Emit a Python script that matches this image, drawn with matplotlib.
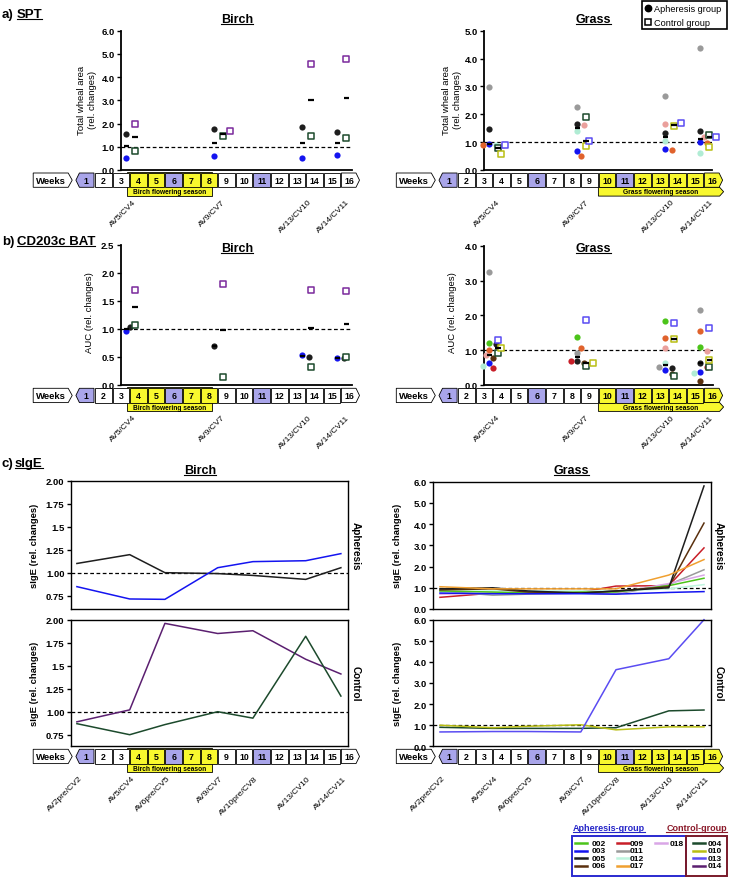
import numpy as np
import matplotlib.pyplot as plt
from matplotlib.patches import Polygon, Rectangle

plt.rcParams["font.family"] = ["Liberation Sans", "DejaVu Sans"]

W, H = 729, 878
nan = np.nan

# visits shown in the SPT and BAT panels (week of the visit)
spt_visits = ["AV5/CV4", "AV9/CV7", "AV13/CV10", "AV14/CV11"]
spt_weeks = [3.5, 8.5, 13.5, 15.5]

# visits shown in the sIgE panels
sige_visits = ["AV2pre/CV2", "AV5/CV4", "AV6pre/CV5", "AV9/CV7",
               "AV10pre/CV8", "AV13/CV10", "AV14/CV11"]
sige_weeks = [0.5, 3.5, 5.5, 8.5, 10.5, 13.5, 15.5]

# a) SPT - total wheal area (rel. changes)
spt_birch_aph = {"003": [0.53, 0.59, 0.52, 0.65], "005": [1.55, 1.76, 1.84, 1.65]}
spt_birch_ctrl = {"004": [0.83, 1.48, 1.48, 1.38], "014": [1.97, 1.66, 4.56, 4.78]}
spt_grass_aph = {
    "003": [0.93, 0.69, 0.75, 1.02],
    "005": [1.48, 1.65, 1.32, 1.41],
    "011": [2.99, 2.25, 2.64, 4.38],
    "012": [0.90, 1.39, 1.05, 0.61],
    "017": [0.91, 0.51, 0.72, 0.97],
    "018": [0.91, 1.63, 1.65, 1.20],
}
spt_grass_ctrl = {
    "004": [0.78, 1.91, nan, 1.26],
    "010": [0.58, 0.87, 1.57, 0.81],
    "013": [0.90, 1.05, 1.69, 1.20],
}

# b) CD203c BAT - AUC (rel. changes)
bat_birch_aph = {"003": [0.955, nan, 0.53, 0.48], "005": [1.04, 0.69, 0.49, 0.48]}
bat_birch_ctrl = {"004": [1.07, 0.13, 0.32, 0.50], "014": [1.70, 1.81, 1.70, 1.68]}
bat_grass_aph = {
    "002": [1.20, 1.38, 1.84, 1.08],
    "003": [0.63, nan, 0.43, 0.38],
    "005": [1.16, 0.68, 0.48, 0.64],
    "006": [0.76, 0.63, 0.31, 0.12],
    "009": [0.48, 0.68, nan, 0.50],
    "011": [3.24, 0.91, 0.50, 2.15],
    "012": [0.53, nan, 0.64, 0.34],
    "017": [1.01, 1.06, 1.36, 1.54],
    "018": [0.86, nan, 1.06, 0.98],
}
bat_grass_ctrl = {
    "004": [0.90, 0.55, 0.26, 0.52],
    "010": [1.06, 0.63, 1.33, 0.71],
    "013": [1.30, 1.87, 1.79, 1.64],
}

# c) sIgE (rel. changes)
sige_birch_aph = {
    "005": [1.10, 1.196, 1.00, 0.99, 0.97, 0.927, 1.054],
    "003": [0.848, 0.714, 0.71, 1.054, 1.12, 1.13, 1.207],
}
sige_birch_ctrl = {
    "014": [0.89, 1.02, 1.96, 1.85, 1.88, 1.57, 1.41],
    "004": [0.87, 0.75, 0.86, 1.00, 0.93, 1.82, 1.17],
}
sige_grass_aph = {
    "009": [0.55, 0.75, 0.80, 0.80, 1.08, 1.10, 2.88],
    "011": [0.85, 0.65, 0.70, 0.75, 0.70, 1.15, 1.85],
    "018": [0.70, 0.75, 0.80, 0.80, 0.75, 1.20, 1.60],
    "012": [0.80, 0.85, 0.85, 0.85, 0.85, 0.95, 1.15],
    "002": [0.85, 0.80, 0.75, 0.80, 0.80, 1.10, 1.45],
    "006": [0.90, 0.95, 0.80, 0.75, 0.85, 1.05, 4.05],
    "005": [0.95, 1.00, 0.85, 0.75, 0.85, 1.00, 5.80],
    "017": [1.05, 0.95, 0.95, 0.95, 0.95, 1.60, 2.33],
    "003": [0.75, 0.72, 0.72, 0.72, 0.70, 0.78, 0.82],
}
sige_grass_ctrl = {
    "004": [0.90, 0.85, 0.85, 0.85, 0.88, 1.68, 1.72],
    "010": [1.00, 0.88, 0.95, 1.02, 0.78, 0.92, 0.92],
    "013": [0.68, 0.70, 0.70, 0.68, 3.63, 4.15, 6.00],
}

aph_ids = [["002", "003", "005", "006"], ["009", "011", "012", "017"], ["018"]]
ctrl_ids = ["004", "010", "013", "014"]

line_colors = {"002": "#4cc41a", "003": "#1414f0", "005": "#1e1e1e", "006": "#5a300e",
               "009": "#c81e28", "011": "#9a9a9a", "012": "#bff5df", "017": "#f0a030",
               "018": "#d9a6e6", "004": "#1c4a2c", "010": "#b9be14", "013": "#5a4cf2",
               "014": "#5b1f70"}
dot_colors = dict(line_colors, **{"017": "#e0622c", "018": "#eaa09c",
                                  "012": "#b0ecd4", "014": "#7a2a9c"})

YELLOW = "#f8f82e"
LAV = "#a9a5ea"
WPX = 17.6               # pixels per week
X0 = [85.7, 448.8]       # pixel x of week 1 centre, left / right column

fig = plt.figure(figsize=(W / 100, H / 100), dpi=100)
ov = fig.add_axes([0, 0, 1, 1])
ov.set_xlim(0, W)
ov.set_ylim(H, 0)
ov.axis("off")
underlined = []


def xpx(week, col):
    return X0[col] + (week - 1) * WPX


def wk(px, col):
    return 1 + (px - X0[col]) / WPX


def px_axes(l, t, r, b, col):
    ax = fig.add_axes([l / W, 1 - b / H, (r - l) / W, (b - t) / H])
    ax.patch.set_visible(False)
    ax.set_xlim(wk(l, col), wk(r, col))
    ax.set_xticks([])
    return ax


def ytext(x, y, s, size=6.8, weight="normal", rot=90):
    ov.text(x, y, s, rotation=rot, ha="center", va="center", fontsize=size,
            fontweight=weight, linespacing=1.15)


def header(x, y, s, size=9, ha="center", color="black", ul=True):
    t = ov.text(x, y, s, ha=ha, va="baseline", fontsize=size, fontweight="bold", color=color)
    if ul:
        underlined.append((t, color))
    return t


def week_bar(col, top, season, labels, label_weeks):
    x0 = X0[col]
    h = 14.3
    bot, mid = top + h, top + h / 2
    wl, wr = x0 - 52.5, x0 - 13.5
    ov.add_patch(Polygon([(wl, top), (wr - 4, top), (wr, mid), (wr - 4, bot), (wl, bot)],
                         fc="white", ec="black", lw=0.6, zorder=2))
    ov.text((wl + wr - 4) / 2, mid, "Weeks", ha="center", va="center",
            fontsize=6.8, fontweight="bold", zorder=3)
    if season == "Birch":
        fl, fr = xpx(3.33, col), xpx(8.16, col)
        ov.add_patch(Rectangle((fl, top - 1.5), fr - fl, h + 10.2, fc=YELLOW,
                               ec="black", lw=0.6, zorder=1))
        ov.text((fl + fr) / 2, bot + 4.5, "Birch flowering season", ha="center",
                va="center", fontsize=4.8, fontweight="bold", zorder=3)
        yellow = {4, 5, 7, 8}
    else:
        xs, xe = xpx(9.5, col), xpx(16.5, col) + 2
        ov.add_patch(Polygon([(xs, bot), (xe - 4, bot), (xe, bot + 4.4),
                              (xe - 4, bot + 8.8), (xs, bot + 8.8)],
                             fc=YELLOW, ec="black", lw=0.6, zorder=1))
        ov.text((xs + xe) / 2, bot + 4.5, "Grass flowering season", ha="center",
                va="center", fontsize=4.8, fontweight="bold", zorder=3)
        yellow = {10, 12, 13, 14, 15, 16}
    for k in range(1, 17):
        l, r = xpx(k - 0.5, col) + 0.5, xpx(k + 0.5, col) - 0.5
        fc = LAV if k in (1, 6, 11) else YELLOW if k in yellow else "white"
        if k == 1:
            pts = [(l - 1.5, mid), (l + 2, top), (r, top), (r, bot), (l + 2, bot)]
        elif k == 16:
            pts = [(l, top), (r - 2, top), (r + 1.5, mid), (r - 2, bot), (l, bot)]
        else:
            pts = [(l, top), (r, top), (r, bot), (l, bot)]
        ov.add_patch(Polygon(pts, fc=fc, ec="black", lw=0.6, zorder=2))
        ov.text(xpx(k, col), mid + 0.3, str(k), ha="center", va="center",
                fontsize=6.3, fontweight="bold", zorder=3)
    ly = bot + 8.8 + 2.0
    for lab, w in zip(labels, label_weeks):
        ov.text(xpx(w, col), ly, lab, rotation=45, rotation_mode="anchor",
                ha="right", va="top", fontsize=6.1)


def left_style(ax, ylim, ticks, labels, box=False):
    ax.set_ylim(*ylim)
    ax.set_yticks(ticks)
    ax.set_yticklabels(labels, fontsize=6.8, fontweight="bold")
    ax.tick_params(axis="y", length=3, width=1.0, pad=1.5, direction="out")
    for side in ("top", "right"):
        ax.spines[side].set_visible(box)
    for s in ax.spines.values():
        s.set_linewidth(1.0 if box else 1.3)
    ax.axhline(1.0, color="black", lw=0.9, ls=(0, (3, 2)), zorder=1)


def swarm(vals, ppu, d=5.6):
    placed, offs = [], []
    step = d * 0.6
    cand = [0] + [s * k * step for k in range(1, 8) for s in (1, -1)]
    for v in vals:
        y = v * ppu
        c = 0
        for c in cand:
            if all((c - px) ** 2 + (y - py) ** 2 >= d * d for px, py in placed):
                break
        placed.append((c, y))
        offs.append(c / WPX)
    return offs


def dot_panel(ax, aph, ctrl, ppu):
    for i, w in enumerate(spt_weeks):
        for grp, shift, filled in ((aph, -0.2, True), (ctrl, 0.3, False)):
            ids = [p for p in grp if not np.isnan(grp[p][i])]
            vals = [grp[p][i] for p in ids]
            cx = w + shift
            for p, v, o in zip(ids, vals, swarm(vals, ppu)):
                if filled:
                    ax.scatter(cx + o, v, s=20, color=dot_colors[p], lw=0, zorder=3, clip_on=False)
                else:
                    ax.scatter(cx + o, v, s=16, marker="s", facecolor="white",
                               edgecolor=dot_colors[p], lw=1.1, zorder=3, clip_on=False)
            m = np.median(vals)
            ax.plot([cx - 0.15, cx + 0.15], [m, m], color="black", lw=1.6, zorder=4,
                    solid_capstyle="butt")


# ---------------- a) SPT ----------------
ov.text(2, 18.3, "a)", fontsize=9.5, fontweight="bold", va="baseline")
header(16.7, 18.3, "SPT", size=9.5, ha="left")
header(237, 23.3, "Birch")
header(593.7, 23.3, "Grass")

ax = px_axes(120.9, 31.7, 351.7, 171, 0)
left_style(ax, (0, 6), np.arange(0, 7), ["%.1f" % t for t in range(7)])
dot_panel(ax, spt_birch_aph, spt_birch_ctrl, 139.3 / 6)
ytext(87, 100, "Total wheal area\n(rel. changes)")

ax = px_axes(484, 31.7, 711.7, 171, 1)
left_style(ax, (0, 5), np.arange(0, 6), ["%.1f" % t for t in range(6)])
dot_panel(ax, spt_grass_aph, spt_grass_ctrl, 139.3 / 5)
ytext(452, 100, "Total wheal area\n(rel. changes)")

week_bar(0, 174, "Birch", spt_visits, [3.65, 8.75, 13.65, 15.8])
week_bar(1, 174, "Grass", spt_visits, [3.7, 8.75, 13.65, 15.85])

# top legend
ov.add_patch(Rectangle((642, 1.7), 85, 28.3, fc="white", ec="black", lw=1.2))
ov.plot(648.5, 9, "o", ms=4.6, color="black")
ov.text(654.5, 9.3, "Apheresis group", va="center", fontsize=6.6)
ov.plot(648.5, 22.7, "s", ms=4.0, mfc="none", mec="black", mew=1.1)
ov.text(654.5, 23, "Control group", va="center", fontsize=6.6)

# ---------------- b) CD203c BAT ----------------
ov.text(2, 245, "b)", fontsize=9.5, fontweight="bold", va="baseline")
header(16.7, 245, "CD203c BAT", size=9.5, ha="left")
header(237, 252.5, "Birch")
header(593.7, 252.5, "Grass")

ax = px_axes(120.7, 246, 351.7, 385.7, 0)
bt = [0, 0.5, 1.0, 1.5, 2.0, 2.5]
left_style(ax, (0, 2.5), bt, ["%.1f" % t for t in bt])
dot_panel(ax, bat_birch_aph, bat_birch_ctrl, 139.7 / 2.5)
ytext(89.5, 313, "AUC (rel. changes)")

ax = px_axes(484, 247, 712.7, 385.7, 1)
left_style(ax, (0, 4), np.arange(0, 5), ["%.1f" % t for t in range(5)])
dot_panel(ax, bat_grass_aph, bat_grass_ctrl, 138.7 / 4)
ytext(453, 313, "AUC (rel. changes)")

week_bar(0, 389.3, "Birch", spt_visits, [3.65, 8.75, 13.65, 15.8])
week_bar(1, 389.3, "Grass", spt_visits, [3.7, 8.75, 13.65, 15.85])

# ---------------- c) sIgE ----------------
ov.text(2, 466.7, "c)", fontsize=9.5, fontweight="bold", va="baseline")
header(15, 466.7, "sIgE", size=9.5, ha="left")
header(200, 474, "Birch")
header(571.7, 474, "Grass")

bticks = [0.75, 1.0, 1.25, 1.5, 1.75, 2.0]
blabels = ["0.75", "1.00", "1.25", "1.5", "1.75", "2.00"]
gticks = np.arange(0, 7)
glabels = ["%.1f" % t for t in gticks]

panels = [
    (0, 481.7, 610, (0.605, 2.0), bticks, blabels, sige_birch_aph),
    (0, 620.7, 747.3, (0.624, 2.0), bticks, blabels, sige_birch_ctrl),
    (1, 482.7, 610, (0, 6), gticks, glabels, sige_grass_aph),
    (1, 620.7, 747.3, (0, 6), gticks, glabels, sige_grass_ctrl),
]
for col, t, b, yl, tk, tl, series in panels:
    l, r = (70.7, 347.7) if col == 0 else (433.3, 710.5)
    ax = px_axes(l, t, r, b, col)
    left_style(ax, yl, tk, tl, box=True)
    for p, vals in series.items():
        ax.plot(sige_weeks, vals, color=line_colors[p], lw=1.1, zorder=2, clip_on=False)
    ytext(35 if col == 0 else 398, (t + b) / 2, "sIgE (rel. changes)", weight="bold")
    ytext(r + 8, (t + b) / 2, "Apheresis" if t < 615 else "Control", size=7.2,
          weight="bold", rot=270)

week_bar(0, 750.3, "Birch", sige_visits, [w + 0.1 for w in sige_weeks])
week_bar(1, 750.3, "Grass", sige_visits, [w + 0.1 for w in sige_weeks])

# bottom legend
header(573, 831, "Apheresis-group", size=6.5, ha="left", color="#2424c8")
header(727, 831, "Control-group", size=6.5, ha="right", color="#8b1a2a")
ov.add_patch(Rectangle((571.7, 836.7), 114.3, 40, fc="none", ec="#2a2ad0", lw=1.4))
ov.add_patch(Rectangle((686, 836.7), 40.7, 40, fc="none", ec="#7a1a2a", lw=1.4))
rows = [844.3, 851.7, 859.3, 866.7]
for ids, lx, tx in zip(aph_ids, [575, 616.7, 655], [591.7, 630, 669.3]):
    for p, y in zip(ids, rows):
        ov.plot([lx, lx + 12.5], [y, y], color=line_colors[p], lw=1.8)
        ov.text(tx, y, p, va="center", fontsize=6, fontweight="bold")
for p, y in zip(ctrl_ids, rows):
    ov.plot([692.7, 705], [y, y], color=line_colors[p], lw=1.8)
    ov.text(707.3, y, p, va="center", fontsize=6, fontweight="bold")

# underlines under headings
fig.canvas.draw()
rend = fig.canvas.get_renderer()
inv = ov.transData.inverted()
for t, c in underlined:
    bb = t.get_window_extent(rend)
    xa = inv.transform((bb.x0, bb.y0))[0]
    xb = inv.transform((bb.x1, bb.y0))[0]
    y = t.get_position()[1] + 1.8
    ov.plot([xa, xb], [y, y], color=c, lw=0.8)

fig.savefig("out.png", dpi=100)
